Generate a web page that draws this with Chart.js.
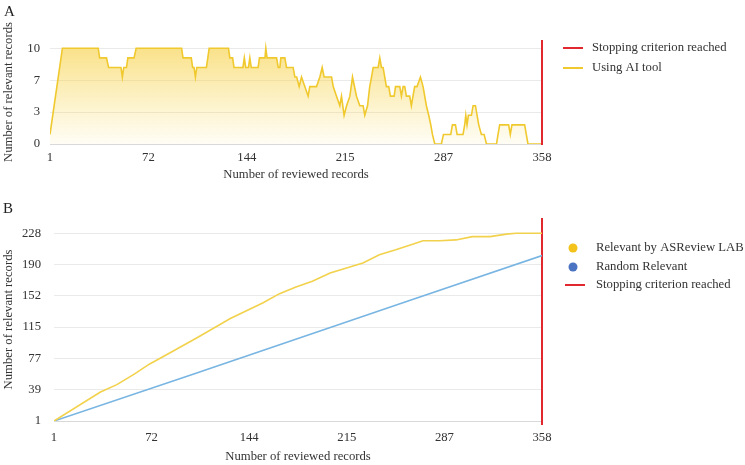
<!DOCTYPE html>
<html><head><meta charset="utf-8">
<script src="https://cdn.jsdelivr.net/npm/chart.js@4.4.1/dist/chart.umd.min.js"></script>
<style>
html,body{margin:0;padding:0;background:#fff;width:745px;height:465px;overflow:hidden}
#wa{position:absolute;left:0;top:0;width:745px;height:192px}
#wb{position:absolute;left:0;top:195px;width:745px;height:270px}
</style></head><body>
<div id="wa"><canvas id="ca"></canvas></div>
<div id="wb"><canvas id="cb"></canvas></div>
<script>
// ---------- data ----------
const xTickValues = [1, 72.4, 143.8, 215.2, 286.6, 358];
const xTickLabels = ['1', '72', '144', '215', '287', '358'];
const aTickValues = [0, 10 / 3, 20 / 3, 10];
const aTickLabels = ['0', '3', '7', '10'];
const bTickValues = [1, 38.83, 76.67, 114.5, 152.33, 190.17, 228];
const bTickLabels = ['1', '39', '77', '115', '152', '190', '228'];

// Panel A: Using AI tool (relevant records in moving window)
const aiX = [1, 10, 36, 37, 42, 43.5, 52.5, 53.5, 54.5, 56.5, 57.5, 62, 63.5, 96.5, 97.5, 103.5, 104.5, 105.5, 106.5, 107.5, 114.5, 115.5, 116.5, 130.5, 131.5, 133.5, 134.5, 141, 142, 143, 145, 146, 147, 152, 153, 157, 157.6, 158.5, 165.4, 166.6, 167.8, 168.5, 171.4, 172.6, 177.4, 178.7, 180, 181.8, 183.5, 185.9, 188.3, 189.5, 194.4, 196.8, 198.5, 199.9, 205.3, 206.5, 208.9, 211.3, 212.5, 214.4, 216.2, 218.6, 220.5, 223.4, 225.8, 228.2, 229.4, 231.4, 233, 234.3, 235.5, 239.1, 240.3, 241.5, 242.7, 243.9, 245.1, 246.8, 248, 250.7, 251.7, 254.8, 256, 257.2, 258.4, 259.6, 262, 263.2, 264.4, 265.6, 267.3, 269.8, 271.7, 272.9, 274.1, 275.8, 277.3, 278.5, 280.2, 285, 286.5, 291.8, 293, 295.2, 296.4, 300.7, 301.9, 302.7, 303.6, 304.6, 306.8, 308, 309.7, 310.9, 312.1, 314, 316, 317.7, 325, 326.1, 327.3, 333.8, 335, 336.2, 345.4, 346.6, 347.8, 358];
const aiY = [1, 10, 10, 9, 9, 8, 8, 7, 8, 8, 9, 9, 10, 10, 9, 9, 8, 8, 7, 8, 8, 9, 10, 10, 9, 9, 8, 8, 9, 8, 8, 9, 8, 8, 9, 9, 10, 9, 9, 8, 8, 9, 9, 8, 8, 7, 7, 6, 7, 6, 5, 6, 6, 7, 8, 7, 7, 6, 5, 4, 5, 3, 4, 5, 7, 5, 4, 4, 3, 4, 6, 7, 8, 8, 9, 8, 8, 7, 6, 6, 5, 5, 6, 6, 5, 6, 6, 5, 5, 4, 5, 6, 6, 7, 6, 5, 4, 3, 2, 1, 0, 0, 1, 1, 2, 2, 1, 1, 2, 3, 2, 3, 3, 4, 4, 3, 2, 1, 1, 0, 0, 1, 2, 2, 1, 2, 2, 1, 0, 0];

// Panel B: cumulative relevant records
const asrX = [1, 35, 47, 60, 71, 81, 105, 130, 154, 166, 178, 190, 203, 215, 227, 239, 251, 260, 271, 283, 295, 307, 320, 332, 339, 358];
const asrY = [1, 36, 45, 58, 70, 79, 101, 125, 144, 155, 163, 170, 180, 186, 192, 202, 208, 213, 219, 219, 220, 224, 224, 227, 228, 228];
const randX = [1, 100, 260, 358];
const randY = [1, 56, 146, 201];

// Stopping criterion (vertical line at last record)
const stopX = [358, 358];
const stopYA = [-0.1, 10.87];
const stopYB = [-3.8, 246.5];

const labelsA = ['Stopping criterion reached', 'Using AI tool'];
const labelsB = ['Relevant by ASReview LAB', 'Random Relevant', 'Stopping criterion reached'];

// ---------- helpers ----------
const pts = (xs, ys) => xs.map((x, i) => ({x: x, y: ys[i]}));
const FONT = '"Liberation Serif", "Times New Roman", serif';
const FS = 12.7;
const TXT = '#333';
const RED = '#E2282F';
const YEL_A = '#F0C92E';
const YEL_B = '#F2D24C';
const BLUE = '#78B5E2';

const legendPlugin = {
  id: 'customLegend',
  afterDraw(chart, args, opts) {
    const ctx = chart.ctx;
    ctx.save();
    ctx.font = FS + 'px ' + FONT;
    ctx.textBaseline = 'middle';
    ctx.textAlign = 'left';
    opts.items.forEach(it => {
      if (it.kind === 'line') {
        ctx.strokeStyle = it.color; ctx.lineWidth = 2;
        ctx.beginPath(); ctx.moveTo(it.x, it.y); ctx.lineTo(it.x + 20, it.y); ctx.stroke();
      } else {
        ctx.fillStyle = it.color;
        ctx.beginPath(); ctx.arc(it.x + 10, it.y, 4.5, 0, Math.PI * 2); ctx.fill();
      }
      ctx.fillStyle = TXT;
      ctx.fillText(it.text, opts.textX, it.y);
    });
    ctx.font = '15px ' + FONT;
    ctx.textBaseline = 'alphabetic';
    ctx.fillStyle = '#222';
    ctx.fillText(opts.panel, opts.panelX, opts.panelY);
    ctx.restore();
  }
};

function xScale(tickPad, titlePadBottom, height) {
  return {
    type: 'linear', min: 1, max: 358,
    afterBuildTicks: s => { s.ticks = xTickValues.map(v => ({value: v})); },
    afterFit: s => { s.height = height; },
    grid: {display: false, drawTicks: false},
    border: {display: true, color: '#D9D9D9'},
    ticks: {autoSkip: false, maxRotation: 0, padding: tickPad, color: TXT,
      font: {family: FONT, size: FS},
      callback: (v, i) => xTickLabels[i]},
    title: {display: true, text: 'Number of reviewed records', color: TXT,
      font: {family: FONT, size: FS}, padding: {top: 0, bottom: titlePadBottom}}
  };
}
function yScale(min, max, vals, labs, width, tickPad) {
  return {
    type: 'linear', min: min, max: max,
    afterBuildTicks: s => { s.ticks = vals.map(v => ({value: v})); },
    afterFit: s => { s.width = width; },
    grid: {color: '#EAEAEA', drawTicks: false},
    border: {display: false},
    ticks: {autoSkip: false, padding: tickPad, color: TXT,
      font: {family: FONT, size: FS},
      callback: (v, i) => labs[i]},
    title: {display: true, text: 'Number of relevant records', color: TXT,
      font: {family: FONT, size: FS}, padding: {top: 1, bottom: 0}}
  };
}

// ---------- chart A ----------
new Chart(document.getElementById('ca'), {
  type: 'line',
  data: {
    datasets: [
      {label: labelsA[0], data: pts(stopX, stopYA), borderColor: RED, borderWidth: 2,
       pointRadius: 0, clip: false, fill: false},
      {label: labelsA[1], data: pts(aiX, aiY), borderColor: YEL_A, borderWidth: 1.6,
       pointRadius: 0, tension: 0, fill: 'origin',
       backgroundColor: (c) => {
         const ch = c.chart, area = ch.chartArea;
         if (!area) return 'rgba(245,205,60,0.3)';
         const y0 = ch.scales.y.getPixelForValue(10);
         const g = ch.ctx.createLinearGradient(0, y0, 0, area.bottom);
         g.addColorStop(0, 'rgba(246,206,60,0.6)');
         g.addColorStop(1, 'rgba(248,215,80,0.06)');
         return g;
       }}
    ]
  },
  options: {
    responsive: true, maintainAspectRatio: false, animation: false,
    layout: {padding: {left: 0, right: 203, top: 40, bottom: 0}},
    plugins: {
      legend: {display: false}, tooltip: {enabled: false},
      customLegend: {
        textX: 592, panel: 'A', panelX: 4, panelY: 16,
        items: [
          {kind: 'line', color: RED, x: 563, y: 48, text: labelsA[0]},
          {kind: 'line', color: YEL_A, x: 563, y: 68, text: labelsA[1]}
        ]
      }
    },
    scales: {
      x: xScale(6, 10, 48),
      y: yScale(0, 10.87, aTickValues, aTickLabels, 50, 10)
    }
  },
  plugins: [legendPlugin]
});

// ---------- chart B ----------
new Chart(document.getElementById('cb'), {
  type: 'line',
  data: {
    datasets: [
      {label: labelsB[0], data: pts(asrX, asrY), borderColor: YEL_B, borderWidth: 1.6,
       pointRadius: 0, tension: 0, fill: false},
      {label: labelsB[1], data: pts(randX, randY), borderColor: BLUE, borderWidth: 1.6,
       pointRadius: 0, tension: 0, fill: false},
      {label: labelsB[2], data: pts(stopX, stopYB), borderColor: RED, borderWidth: 2,
       pointRadius: 0, clip: false, fill: false}
    ]
  },
  options: {
    responsive: true, maintainAspectRatio: false, animation: false,
    layout: {padding: {left: 0, right: 203, top: 23, bottom: 0}},
    plugins: {
      legend: {display: false}, tooltip: {enabled: false},
      customLegend: {
        textX: 596, panel: 'B', panelX: 3, panelY: 18,
        items: [
          {kind: 'dot', color: '#F3C21B', x: 563, y: 53, text: labelsB[0]},
          {kind: 'dot', color: '#4A73C2', x: 563, y: 72, text: labelsB[1]},
          {kind: 'line', color: RED, x: 565, y: 90, text: labelsB[2]}
        ]
      }
    },
    scales: {
      x: xScale(9, 1, 44),
      y: yScale(1, 246.5, bTickValues, bTickLabels, 54, 13)
    }
  },
  plugins: [legendPlugin]
});
</script>
</body></html>
